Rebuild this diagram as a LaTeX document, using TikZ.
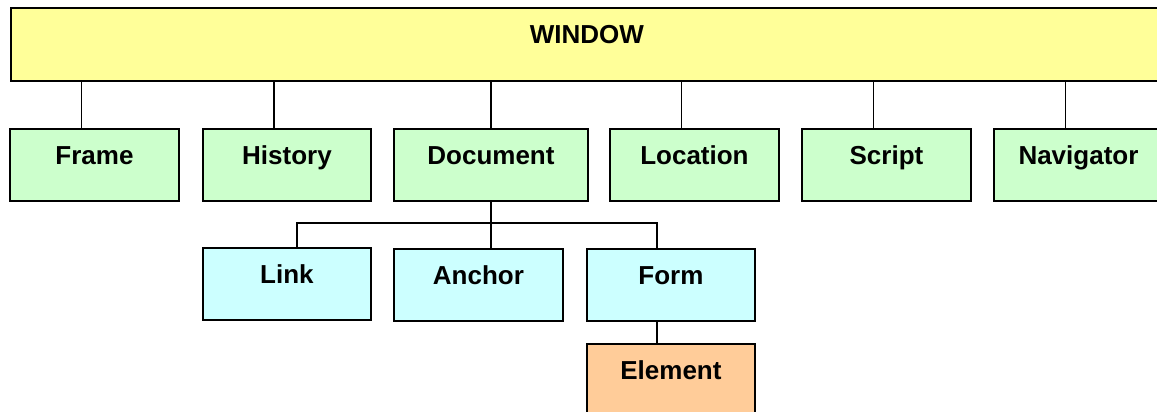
\documentclass[tikz,border=0pt]{standalone}
\usepackage{fontspec}
\setmainfont{Liberation Sans}
\definecolor{yel}{HTML}{FFFF99}
\definecolor{grn}{HTML}{CCFFCC}
\definecolor{cyn}{HTML}{CCFFFF}
\definecolor{org}{HTML}{FFCC99}
\begin{document}
\begin{tikzpicture}[x=1pt,y=-1pt,
  box/.style={draw, line width=1.9pt, inner sep=0pt, minimum width=168pt,
    text height=35.5pt, text depth=36.5pt, anchor=north west,
    font=\fontsize{26}{30}\selectfont\bfseries},
  conn/.style={draw, line width=1.8pt}]
\useasboundingbox (0,0) rectangle (1157,412);
\clip (0,0) rectangle (1157,412);
\fill[white] (0,0) rectangle (1157,412);
% top
\node[box, fill=yel, minimum width=1152pt, text depth=37.5pt] (window) at (10,7) {WINDOW};
% second row
\node[box, fill=grn, minimum width=169pt] (frame) at (9,128) {Frame};
\node[box, fill=grn] (history) at (202,128) {History};
\node[box, fill=grn, minimum width=194pt] (document) at (393,128) {Document};
\node[box, fill=grn, minimum width=169pt] (location) at (609,128) {Location};
\node[box, fill=grn, minimum width=169pt] (script) at (801,128) {Script};
\node[box, fill=grn, minimum width=169pt] (navigator) at (993,128) {Navigator};
% third row
\node[box, fill=cyn] (link) at (202,247) {Link};
\node[box, fill=cyn, minimum width=169pt] (anchor) at (393,248) {Anchor};
\node[box, fill=cyn] (form) at (586,248) {Form};
% fourth row
\node[box, fill=org] (element) at (586,343) {Element};
% connectors from window
\foreach \n in {frame,history,location,script,navigator}{
  \coordinate (c-\n) at ([xshift=-13pt]\n.north);
  \draw[conn] (c-\n |- window.south) -- (c-\n);
}
\draw[conn] (window.south -| document.north) -- (document.north);
% document subtree
\coordinate (dL) at (297,223);
\coordinate (dF) at (657,223);
\draw[conn] (document.south) -- (document.south |- anchor.north);
\draw[conn] (link.north -| dL) -- (dL) -- (dF) -- (form.north -| dF);
\draw[conn] (form.south -| dF) -- (element.north -| dF);
\end{tikzpicture}
\end{document}
